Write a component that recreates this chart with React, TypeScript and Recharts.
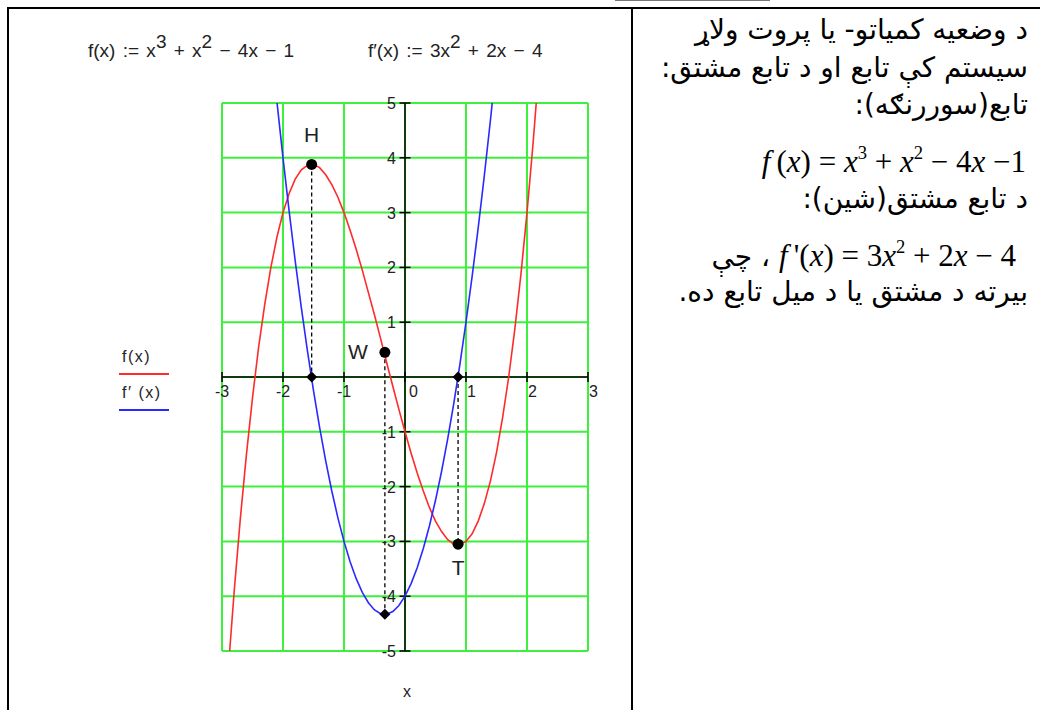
import React from 'react';
import { LineChart, Line, XAxis, YAxis, CartesianGrid, ReferenceLine, ReferenceDot, Legend } from 'recharts';

// f(x)
const fXs = [-2.9, -2.8, -2.7, -2.6, -2.5, -2.4, -2.3, -2.2, -2.1, -2.0, -1.9, -1.8, -1.7, -1.6, -1.5, -1.4, -1.3, -1.2, -1.1, -1.0, -0.9, -0.8, -0.7, -0.6, -0.5, -0.4, -0.3, -0.2, -0.1, 0, 0.1, 0.2, 0.3, 0.4, 0.5, 0.6, 0.7, 0.8, 0.9, 1.0, 1.1, 1.2, 1.3, 1.4, 1.5, 1.6, 1.7, 1.8, 1.9, 2.0, 2.1, 2.2];
const fYs = [-5.38, -3.91, -2.59, -1.42, -0.38, 0.54, 1.32, 1.99, 2.55, 3.0, 3.35, 3.61, 3.78, 3.86, 3.88, 3.82, 3.69, 3.51, 3.28, 3.0, 2.68, 2.33, 1.95, 1.54, 1.13, 0.7, 0.26, -0.17, -0.59, -1.0, -1.39, -1.75, -2.08, -2.38, -2.63, -2.82, -2.97, -3.05, -3.06, -3.0, -2.86, -2.63, -2.31, -1.9, -1.38, -0.74, 0.0, 0.87, 1.87, 3.0, 4.27, 5.69];

// f'(x)
const dXs = [-2.2, -2.1, -2.0, -1.9, -1.8, -1.7, -1.6, -1.5, -1.4, -1.3, -1.2, -1.1, -1.0, -0.9, -0.8, -0.7, -0.6, -0.5, -0.4, -0.3, -0.2, -0.1, 0, 0.1, 0.2, 0.3, 0.4, 0.5, 0.6, 0.7, 0.8, 0.9, 1.0, 1.1, 1.2, 1.3, 1.4, 1.5];
const dYs = [6.12, 5.03, 4.0, 3.03, 2.12, 1.27, 0.48, -0.25, -0.92, -1.53, -2.08, -2.57, -3.0, -3.37, -3.68, -3.93, -4.12, -4.25, -4.32, -4.33, -4.28, -4.17, -4.0, -3.77, -3.48, -3.13, -2.72, -2.25, -1.72, -1.13, -0.48, 0.23, 1.0, 1.83, 2.72, 3.67, 4.68, 5.75];

const xTicks = [-3, -2, -1, 0, 1, 2, 3];
const yTicks = [-5, -4, -3, -2, -1, 0, 1, 2, 3, 4, 5];
const xTickLabels = ['-3', '-2', '-1', '0', '1', '2', '3'];
const yTickLabels = ['-5', '-4', '-3', '-2', '-1', '', '1', '2', '3', '4', '5'];

// special points
const pointNames = ['H', 'W', 'T'];
const pointXs = [-1.53, -0.33, 0.87];
const pointYs = [3.88, 0.45, -3.05];
const diamondXs = [-1.53, 0.87, -0.33];
const diamondYs = [0, 0, -4.33];
// dashed drop lines [x, yFrom, yTo]
const dropX = [-1.53, -0.33, 0.87];
const dropFrom = [3.88, 0.45, 0];
const dropTo = [0, -4.33, -3.05];

const fData = fXs.map((x, i) => ({ x, f: fYs[i] }));
const dData = dXs.map((x, i) => ({ x, d: dYs[i] }));

const TXT = '#222';
const SANS = '"Liberation Sans", Arial, sans-serif';

const renderLegend = (props: any) => (
  <div>
    {(props.payload || []).map((e: any, i: number) => (
      <div key={i} style={{ width: 50, marginBottom: 9 }}>
        <div style={{ fontFamily: SANS, fontSize: 16, color: TXT, paddingLeft: 3, letterSpacing: 1.5, lineHeight: '18px', whiteSpace: 'nowrap' }}>{e.value}</div>
        <div style={{ height: 2, background: e.color, marginTop: 7 }} />
      </div>
    ))}
  </div>
);

const markerLabelOffset: Record<string, [number, number]> = { H: [0, -22], W: [-27, 7], T: [0, 31] };

export default function App() {
  const sup: React.CSSProperties = { fontSize: '1em', position: 'relative', top: -9 };
  const msup: React.CSSProperties = { fontSize: '0.6em', position: 'relative', top: -13 };
  const serif = '"Liberation Serif", "Times New Roman", serif';
  const arab = '"DejaVu Sans", sans-serif';
  const lineStyle = (top: number): React.CSSProperties => ({ position: 'absolute', right: 12, top, whiteSpace: 'nowrap', direction: 'rtl', fontFamily: arab, fontSize: 28, lineHeight: '34px', color: '#000' });
  const titleStyle = (left: number): React.CSSProperties => ({ position: 'absolute', left, top: 40, fontFamily: SANS, fontSize: 19, color: TXT, whiteSpace: 'nowrap', lineHeight: '22px', wordSpacing: 2 });
  return (
    <div style={{ position: 'absolute', left: 0, top: 0, width: 1040, height: 710, overflow: 'hidden', background: '#fff' }}>
      <div style={{ position: 'absolute', left: 615, top: 0, width: 155, height: 1, background: '#777' }} />
      <div style={{ position: 'absolute', left: 7, top: 7, width: 1033, height: 2, background: '#000' }} />
      <div style={{ position: 'absolute', left: 7, top: 7, width: 2, height: 703, background: '#000' }} />
      <div style={{ position: 'absolute', left: 631, top: 7, width: 2, height: 703, background: '#000' }} />

      <div style={titleStyle(88)}>
        f(x) := x<span style={sup}>3</span> + x<span style={sup}>2</span> − 4x − 1
      </div>
      <div style={titleStyle(368)}>
        f′(x) := 3x<span style={sup}>2</span> + 2x − 4
      </div>
      <div style={{ position: 'absolute', left: 403, top: 683, fontFamily: SANS, fontSize: 16, color: TXT }}>x</div>

      <div style={{ position: 'absolute', left: 0, top: 0 }}>
        <LineChart width={632} height={710} margin={{ top: 103, right: 44, bottom: 59, left: 222 }}>
          <XAxis type="number" dataKey="x" domain={[-3, 3]} ticks={xTicks} allowDataOverflow hide />
          <YAxis type="number" domain={[-5, 5]} ticks={yTicks} allowDataOverflow hide />
          <CartesianGrid stroke="#3cf03c" strokeWidth={2} horizontalValues={yTicks} verticalValues={xTicks} />
          <Legend layout="vertical" align="center" verticalAlign="middle" content={renderLegend}
            wrapperStyle={{ left: 119, top: 348, width: 56, height: 80 }} />
          <ReferenceLine y={0} stroke="#000" strokeWidth={1.5} />
          <ReferenceLine x={0} stroke="#000" strokeWidth={1.5} />
          {xTicks.map((t) => (
            <ReferenceLine key={'xt' + t} segment={[{ x: t, y: -0.09 }, { x: t, y: 0.09 }]} stroke="#000" strokeWidth={1.5} />
          ))}
          {yTicks.filter((t) => t !== 0).map((t) => (
            <ReferenceLine key={'yt' + t} segment={[{ x: -0.09, y: t }, { x: 0.09, y: t }]} stroke="#000" strokeWidth={1.5} />
          ))}
          {xTicks.map((t, i) => (
            <ReferenceDot key={'xl' + t} x={t} y={0} r={0}
              shape={(p: any) => (
                <text x={p.cx + (t < 0 ? -7 : t === 0 ? 4 : 1)} y={p.cy + 20} fontFamily={SANS} fontSize={16} fill={TXT} textAnchor="start">{xTickLabels[i]}</text>
              )} />
          ))}
          {yTicks.map((t, i) => t === 0 ? null : (
            <ReferenceDot key={'yl' + t} x={0} y={t} r={0}
              shape={(p: any) => (
                <text x={p.cx - 9} y={p.cy + 6} fontFamily={SANS} fontSize={16} fill={TXT} textAnchor="end">{yTickLabels[i]}</text>
              )} />
          ))}
          {dropX.map((x, i) => (
            <ReferenceLine key={'dr' + i} segment={[{ x, y: dropFrom[i] }, { x, y: dropTo[i] }]} stroke="#000" strokeWidth={1.3} strokeDasharray="4 3" />
          ))}
          <Line data={fData} dataKey="f" name="f(x)" type="linear" stroke="#ff2a2a" strokeWidth={1.6} dot={false} activeDot={false} isAnimationActive={false} />
          <Line data={dData} dataKey="d" name="f′ (x)" type="linear" stroke="#2a2aff" strokeWidth={1.6} dot={false} activeDot={false} isAnimationActive={false} />
          {diamondXs.map((x, i) => (
            <ReferenceDot key={'dm' + i} x={x} y={diamondYs[i]} r={5}
              shape={(p: any) => (
                <polygon points={`${p.cx},${p.cy - 5.5} ${p.cx + 5.5},${p.cy} ${p.cx},${p.cy + 5.5} ${p.cx - 5.5},${p.cy}`} fill="#000" />
              )} />
          ))}
          {pointNames.map((n, i) => (
            <ReferenceDot key={'pt' + n} x={pointXs[i]} y={pointYs[i]} r={5}
              shape={(p: any) => (
                <g>
                  <circle cx={p.cx} cy={p.cy} r={5.5} fill="#000" />
                  <text x={p.cx + markerLabelOffset[n][0]} y={p.cy + markerLabelOffset[n][1]} fontFamily={SANS} fontSize={21} fill={TXT} textAnchor="middle">{n}</text>
                </g>
              )} />
          ))}
        </LineChart>
      </div>

      <div style={lineStyle(13)}>د وضعیه کمیاتو- یا پروت ولاړ</div>
      <div style={lineStyle(51)}>سیستم کې تابع او د تابع مشتق:</div>
      <div style={lineStyle(88)}>تابع(سوررنګه):</div>
      <div style={{ position: 'absolute', right: 14, top: 142, whiteSpace: 'nowrap', fontFamily: serif, fontSize: 31, lineHeight: '40px' }}>
        <i>f</i>&thinsp;(<i>x</i>) = <i>x</i><span style={msup}>3</span> + <i>x</i><span style={msup}>2</span> − 4<i>x</i> −1
      </div>
      <div style={lineStyle(182)}>د تابع مشتق(شین):</div>
      <div style={{ position: 'absolute', right: 24, top: 236, whiteSpace: 'nowrap', direction: 'rtl', fontFamily: arab, fontSize: 28, lineHeight: '40px' }}>
        <span dir="ltr" style={{ fontFamily: serif, fontSize: 31, unicodeBidi: 'isolate' }}><i>f</i>&thinsp;'(<i>x</i>) = 3<i>x</i><span style={msup}>2</span> + 2<i>x</i> − 4</span> ، چې
      </div>
      <div style={lineStyle(275)}>بیرته  د مشتق یا د میل تابع ده.</div>
    </div>
  );
}
